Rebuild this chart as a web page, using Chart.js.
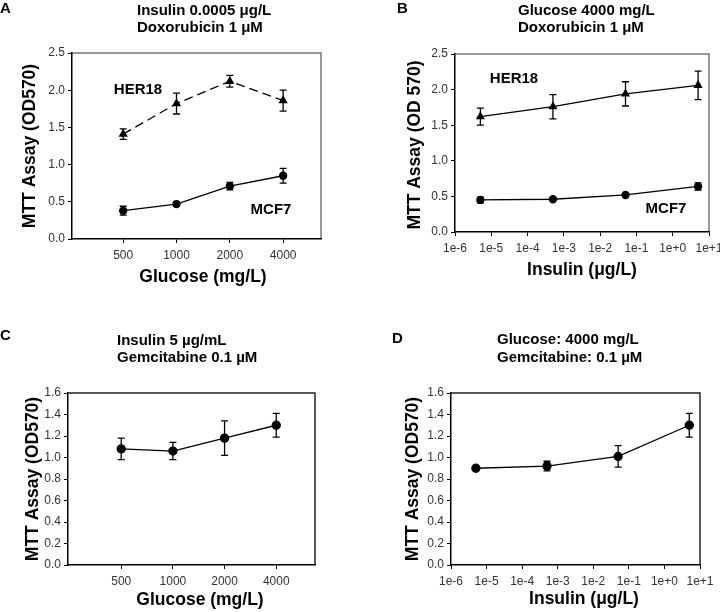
<!DOCTYPE html>
<html lang="en">
<head>
<meta charset="UTF-8">
<title>MTT Assay</title>
<script src="https://cdn.jsdelivr.net/npm/chart.js"></script>
<style>
  body { margin: 0; background: #fff; }
  .wrap { position: relative; width: 720px; height: 612px; }
  canvas { position: absolute; }
</style>
</head>
<body>
<div class="wrap">
  <canvas id="chartA" width="360" height="306" style="left:0;top:0"></canvas>
  <canvas id="chartB" width="360" height="306" style="left:360px;top:0"></canvas>
  <canvas id="chartC" width="360" height="306" style="left:0;top:306px"></canvas>
  <canvas id="chartD" width="360" height="306" style="left:360px;top:306px"></canvas>
</div>
<script>
// data
const glucoseLabels = ['500', '1000', '2000', '4000'];
const glucoseIdx = [0, 1, 2, 3];
const insulinDoses = [5e-6, 5e-4, 5e-2, 5];
const insulinTicks = [1e-6, 1e-5, 1e-4, 1e-3, 1e-2, 1e-1, 1e0, 1e1];
const insulinTickLabels = ['1e-6', '1e-5', '1e-4', '1e-3', '1e-2', '1e-1', '1e+0', '1e+1'];
const yTicksTop = [0, 0.5, 1.0, 1.5, 2.0, 2.5];
const yTicksBottom = [0, 0.2, 0.4, 0.6, 0.8, 1.0, 1.2, 1.4, 1.6];

const her18A = [1.41, 1.82, 2.12, 1.86];
const her18AErr = [0.07, 0.14, 0.08, 0.14];
const mcf7A = [0.38, 0.47, 0.71, 0.85];
const mcf7AErr = [0.06, 0.03, 0.05, 0.10];

const her18B = [1.62, 1.76, 1.94, 2.06];
const her18BErr = [0.12, 0.17, 0.17, 0.20];
const mcf7B = [0.45, 0.46, 0.52, 0.64];
const mcf7BErr = [0.04, 0.02, 0.01, 0.05];

const gemC = [1.08, 1.06, 1.18, 1.30];
const gemCErr = [0.10, 0.08, 0.16, 0.11];

const gemD = [0.90, 0.92, 1.01, 1.30];
const gemDErr = [0, 0.045, 0.10, 0.11];

const FONT = '"Liberation Sans", Arial, sans-serif';

function pts(xs, ys) {
  return xs.map((x, i) => ({ x: x, y: ys[i] }));
}

// error bars, drawn under the markers
const errorBars = {
  id: 'errorBars',
  beforeDatasetsDraw(chart) {
    const ctx = chart.ctx;
    const xs = chart.scales.x, ys = chart.scales.y;
    ctx.save();
    ctx.strokeStyle = '#000';
    ctx.lineWidth = 1.3;
    chart.data.datasets.forEach(ds => {
      if (!ds.errorBars) return;
      ds.data.forEach((p, i) => {
        const e = ds.errorBars[i];
        if (!e) return;
        const x = xs.getPixelForValue(p.x);
        const y1 = ys.getPixelForValue(p.y + e);
        const y2 = ys.getPixelForValue(p.y - e);
        ctx.beginPath();
        ctx.moveTo(x, y1); ctx.lineTo(x, y2);
        ctx.moveTo(x - 3.5, y1); ctx.lineTo(x + 3.5, y1);
        ctx.moveTo(x - 3.5, y2); ctx.lineTo(x + 3.5, y2);
        ctx.stroke();
      });
    });
    ctx.restore();
  }
};

// top and right edges of the box
function framePlugin(color) {
  return {
    id: 'frame',
    beforeDraw(chart) {
      const a = chart.chartArea, ctx = chart.ctx;
      ctx.save();
      ctx.strokeStyle = color;
      ctx.lineWidth = 1.5;
      ctx.beginPath();
      ctx.moveTo(a.left, a.top);
      ctx.lineTo(a.right, a.top);
      ctx.lineTo(a.right, a.bottom);
      ctx.stroke();
      ctx.restore();
    }
  };
}

function textPlugin(t) {
  return {
    id: 'panelText',
    afterDraw(chart) {
      const ctx = chart.ctx;
      ctx.save();
      ctx.fillStyle = '#000';
      ctx.textBaseline = 'alphabetic';
      ctx.textAlign = 'left';
      ctx.font = 'bold 15px ' + FONT;
      ctx.fillText(t.letter, t.letterX, t.letterY);

      ctx.textBaseline = 'middle';
      ctx.font = 'bold 15px ' + FONT;
      t.title.forEach((s, i) => ctx.fillText(s, t.titleX, t.titleY[i]));

      ctx.textAlign = 'center';
      ctx.font = 'bold 17.5px ' + FONT;
      ctx.fillText(t.xTitle, t.xTitlePos[0], t.xTitlePos[1]);
      ctx.save();
      ctx.translate(t.yTitlePos[0], t.yTitlePos[1]);
      ctx.rotate(-Math.PI / 2);
      ctx.fillText(t.yTitle, 0, 0);
      ctx.restore();

      ctx.font = 'bold 15px ' + FONT;
      (t.notes || []).forEach(n => ctx.fillText(n.text, n.x, n.y));
      ctx.restore();
    }
  };
}

function makeChart(id, o) {
  const H = 306, W = 360;
  const axisBase = {
    grid: { display: true, drawOnChartArea: false, drawTicks: true, tickLength: 4, color: '#000', lineWidth: 1 },
    border: { display: true, color: '#000', width: 1.5 },
    ticks: { color: '#333', font: { family: FONT, size: 12 }, autoSkip: false, maxRotation: 0 }
  };
  const xAxis = Object.assign({}, axisBase, {
    type: o.xType,
    min: o.xMin,
    max: o.xMax,
    afterBuildTicks(s) { s.ticks = o.xTicks.map(v => ({ value: v })); },
    afterFit(s) { s.height = H - o.area.bottom; s.paddingLeft = 0; s.paddingRight = 0; },
    ticks: Object.assign({}, axisBase.ticks, { padding: 5, callback: (v, i) => o.xTickLabels[i] })
  });
  const yAxis = Object.assign({}, axisBase, {
    type: 'linear',
    min: 0,
    max: o.yMax,
    afterBuildTicks(s) { s.ticks = o.yTicks.map(v => ({ value: v })); },
    afterFit(s) { s.width = o.area.left; s.paddingTop = 0; s.paddingBottom = 0; },
    ticks: Object.assign({}, axisBase.ticks, { padding: 3, callback: v => v.toFixed(1) })
  });
  new Chart(document.getElementById(id), {
    type: 'line',
    data: { datasets: o.datasets },
    options: {
      responsive: false,
      animation: false,
      layout: { padding: { left: 0, bottom: 0, top: o.area.top, right: W - o.area.right } },
      plugins: { legend: { display: false }, tooltip: { enabled: false } },
      scales: { x: xAxis, y: yAxis }
    },
    plugins: [framePlugin(o.frameColor), errorBars, textPlugin(o.text)]
  });
}

function series(data, errs, style, dash) {
  return {
    data: data,
    errorBars: errs,
    borderColor: '#000',
    borderWidth: 1.3,
    borderDash: dash || [],
    backgroundColor: '#000',
    pointBackgroundColor: '#000',
    pointBorderColor: '#000',
    pointStyle: style.shape,
    pointRadius: style.r,
    tension: 0
  };
}

const tri = { shape: 'triangle', r: 4 };
const dot = { shape: 'circle', r: 3.5 };
const bigDot = { shape: 'circle', r: 4 };

makeChart('chartA', {
  xType: 'linear', xMin: -0.96, xMax: 3.71, xTicks: glucoseIdx, xTickLabels: glucoseLabels,
  yMax: 2.5, yTicks: yTicksTop, frameColor: '#777',
  area: { left: 72, right: 321, top: 53, bottom: 239 },
  datasets: [
    series(pts(glucoseIdx, her18A), her18AErr, tri, [9, 5]),
    series(pts(glucoseIdx, mcf7A), mcf7AErr, dot)
  ],
  text: {
    letter: 'A', letterX: 0, letterY: 13,
    title: ['Insulin 0.0005 \u03bcg/L', 'Doxorubicin 1 \u03bcM'], titleX: 137, titleY: [11, 28],
    xTitle: 'Glucose (mg/L)', xTitlePos: [203, 277],
    yTitle: 'MTT Assay (OD570)', yTitlePos: [30, 146],
    notes: [{ text: 'HER18', x: 138, y: 90 }, { text: 'MCF7', x: 271, y: 210 }]
  }
});

makeChart('chartB', {
  xType: 'logarithmic', xMin: 1e-6, xMax: 10, xTicks: insulinTicks, xTickLabels: insulinTickLabels,
  yMax: 2.5, yTicks: yTicksTop, frameColor: '#777',
  area: { left: 95, right: 349, top: 54, bottom: 232 },
  datasets: [
    series(pts(insulinDoses, her18B), her18BErr, tri),
    series(pts(insulinDoses, mcf7B), mcf7BErr, dot)
  ],
  text: {
    letter: 'B', letterX: 37, letterY: 13,
    title: ['Glucose 4000 mg/L', 'Doxorubicin 1 \u03bcM'], titleX: 158, titleY: [11, 28],
    xTitle: 'Insulin (\u03bcg/L)', xTitlePos: [222, 270],
    yTitle: 'MTT Assay (OD 570)', yTitlePos: [55, 145],
    notes: [{ text: 'HER18', x: 154, y: 79 }, { text: 'MCF7', x: 306, y: 209 }]
  }
});

makeChart('chartC', {
  xType: 'linear', xMin: -1.03, xMax: 3.75, xTicks: glucoseIdx, xTickLabels: glucoseLabels,
  yMax: 1.6, yTicks: yTicksBottom, frameColor: '#222',
  area: { left: 68, right: 315, top: 87, bottom: 259 },
  datasets: [series(pts(glucoseIdx, gemC), gemCErr, bigDot)],
  text: {
    letter: 'C', letterX: 0, letterY: 34,
    title: ['Insulin 5 \u00b5g/mL', 'Gemcitabine 0.1 \u00b5M'], titleX: 117, titleY: [35, 52],
    xTitle: 'Glucose (mg/L)', xTitlePos: [200, 294],
    yTitle: 'MTT Assay (OD570)', yTitlePos: [33, 173]
  }
});

makeChart('chartD', {
  xType: 'logarithmic', xMin: 1e-6, xMax: 10, xTicks: insulinTicks, xTickLabels: insulinTickLabels,
  yMax: 1.6, yTicks: yTicksBottom, frameColor: '#222',
  area: { left: 91, right: 340, top: 87, bottom: 259 },
  datasets: [series(pts(insulinDoses, gemD), gemDErr, bigDot)],
  text: {
    letter: 'D', letterX: 32, letterY: 37,
    title: ['Glucose: 4000 mg/L', 'Gemcitabine: 0.1 \u00b5M'], titleX: 137, titleY: [34, 52],
    xTitle: 'Insulin (\u03bcg/L)', xTitlePos: [224, 293],
    yTitle: 'MTT Assay (OD570)', yTitlePos: [53, 173]
  }
});
</script>
</body>
</html>
